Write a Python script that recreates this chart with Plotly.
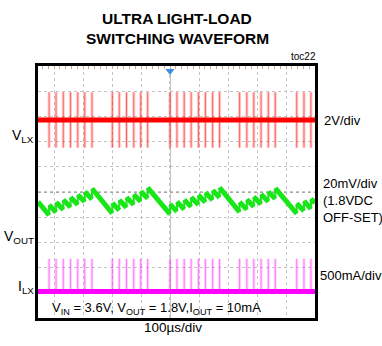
import plotly.graph_objects as go

# ---------------- data ----------------
# time base: 100 us/div ; record shown on screen (us)
record_t = [-55.2, 900.0]
trigger_t = 400.0

# LX switching pulse times (us)
lx_pulse_t = [-17, 7, 32, 57, 82, 106, 131,
              201, 225, 250, 275, 299, 323,
              400, 424, 449, 473, 498, 522, 547, 571,
              640, 665, 689, 714, 739, 763,
              837, 862, 886]
vlx_pulse_hi = 2.2     # V
vlx_pulse_lo = -2.2    # V
ilx_pulse_pk = 650     # mA

# VOUT ripple (mV around the 1.8V offset): value just before / just after each pulse
vout_start = -7.8
vout_before = [-18.4, -16.1, -14.1, -12.1, -10.1, -7.8, -5.7,
               -17.0, -14.5, -12.3, -10.1, -7.6, -5.1,
               -17.5, -15.5, -13.8, -11.8, -10.1, -8.1, -6.4, -4.4,
               -16.0, -14.0, -11.7, -9.7, -7.7, -5.4,
               -17.1, -15.1, -13.4]
vout_after = [-10.4, -8.1, -6.1, -4.1, -2.1, 0.2, 2.8,
              -8.8, -6.3, -4.1, -1.9, 0.6, 3.4,
              -9.8, -7.8, -6.1, -4.1, -2.4, -0.4, 1.3, 3.6,
              -8.0, -6.0, -3.7, -1.7, 0.3, 3.0,
              -9.1, -7.1, -5.4]
vout_end = -8.8

title_lines = ["ULTRA LIGHT-LOAD", "SWITCHING WAVEFORM"]
# ---------------------------------------------------------------

W, H = 382, 346
L, R, T, B = 38, 67, 66, 28
PW, PH = W - L - R, H - T - B


def px(xp):
    return (xp - L) / PW


def py(yp):
    return (H - B - yp) / PH


# build traces from data
spk_x, vlx_y, ilx_y = [], [], []
for t in lx_pulse_t:
    spk_x += [t, t, None]
    vlx_y += [vlx_pulse_lo, vlx_pulse_hi, None]
    ilx_y += [0, ilx_pulse_pk, None]

# VOUT: droop segments (thick) and jump segments (thin)
droop_x, droop_y, jump_x, jump_y = [], [], [], []
prev_t, prev_v = record_t[0], vout_start
for t, b, a in zip(lx_pulse_t, vout_before, vout_after):
    droop_x += [prev_t, t, None]
    droop_y += [prev_v, b, None]
    jump_x += [t, t, None]
    jump_y += [b, a, None]
    prev_t, prev_v = t, a
droop_x += [prev_t, record_t[1]]
droop_y += [prev_v, vout_end]

fig = go.Figure()
# V_LX
fig.add_trace(go.Scatter(x=spk_x, y=vlx_y, mode="lines", yaxis="y2",
                         line=dict(color="rgba(255,90,90,0.32)", width=3), hoverinfo="skip"))
fig.add_trace(go.Scatter(x=spk_x, y=vlx_y, mode="lines", yaxis="y2",
                         line=dict(color="rgba(255,0,0,0.5)", width=1), hoverinfo="skip"))
fig.add_trace(go.Scatter(x=record_t, y=[0, 0], mode="lines", yaxis="y2",
                         line=dict(color="#ff0000", width=5), hoverinfo="skip"))
# V_OUT
fig.add_trace(go.Scatter(x=jump_x, y=jump_y, mode="lines", yaxis="y3",
                         line=dict(color="rgb(25,230,25)", width=2), hoverinfo="skip"))
fig.add_trace(go.Scatter(x=droop_x, y=droop_y, mode="lines", yaxis="y3",
                         line=dict(color="rgb(25,230,25)", width=5), hoverinfo="skip"))
# I_LX
fig.add_trace(go.Scatter(x=spk_x, y=ilx_y, mode="lines", yaxis="y4",
                         line=dict(color="rgba(255,120,255,0.3)", width=3), hoverinfo="skip"))
fig.add_trace(go.Scatter(x=spk_x, y=ilx_y, mode="lines", yaxis="y4",
                         line=dict(color="rgba(255,0,255,0.45)", width=1), hoverinfo="skip"))
fig.add_trace(go.Scatter(x=record_t, y=[0, 0], mode="lines", yaxis="y4",
                         line=dict(color="#ff00ff", width=5), hoverinfo="skip"))
# trigger marker
fig.add_trace(go.Scatter(x=[trigger_t], y=[9.8], mode="markers", cliponaxis=False,
                         marker=dict(symbol="triangle-down", size=8, color="#3d8fe0"),
                         hoverinfo="skip"))

grid = dict(showgrid=True, gridcolor="#c4c4c4", griddash="dot", gridwidth=1,
            zeroline=False, showticklabels=False, ticks="",
            showline=True, linecolor="black", linewidth=2.5, mirror=True)

fig.update_layout(
    width=W, height=H, margin=dict(l=L, r=R, t=T, b=B),
    paper_bgcolor="white", plot_bgcolor="white", showlegend=False,
    xaxis=dict(range=record_t, tick0=0, dtick=100, **grid),
    xaxis2=dict(range=record_t, overlaying="x", side="top", tick0=0, dtick=20,
                ticks="inside", ticklen=3, tickcolor="#c9a98f", tickwidth=1,
                showticklabels=False, showgrid=False, zeroline=False),
    yaxis=dict(range=[0, 10], tick0=0, dtick=1, **grid),
    yaxis2=dict(range=[-15.72, 4.28], overlaying="y", visible=False),
    yaxis3=dict(range=[-100, 100], overlaying="y", visible=False),
    yaxis4=dict(range=[-525, 4475], overlaying="y", visible=False),
    font=dict(family="Liberation Sans, Arial, sans-serif", color="black", size=13),
)
# invisible trace to make xaxis2 render
fig.add_trace(go.Scatter(x=record_t, y=[None, None], xaxis="x2", yaxis="y", hoverinfo="skip"))

# center graticule lines + blank strip behind caption
fig.add_shape(type="line", xref="x", yref="y", x0=trigger_t, x1=trigger_t, y0=0, y1=10,
              line=dict(color="#8a8a8a", width=1, dash="dot"), layer="between")
fig.add_shape(type="line", xref="x", yref="y", x0=record_t[0], x1=record_t[1], y0=5, y1=5,
              line=dict(color="#8a8a8a", width=1, dash="dot"), layer="between")
fig.add_shape(type="rect", xref="paper", yref="y", x0=0.004, x1=0.996, y0=0.02, y1=0.9,
              fillcolor="white", line=dict(width=0), layer="between")

title_font = dict(family="Liberation Sans, Arial", size=15.5, color="black")
ann = [
    dict(text="<b>%s</b>" % title_lines[0], x=px(177), y=py(18.5), font=title_font),
    dict(text="<b>%s</b>" % title_lines[1], x=px(177.5), y=py(38.5), font=title_font),
    dict(text="toc22", x=px(318), y=py(57), xanchor="right", font=dict(size=10)),
    dict(text="V<sub>LX</sub>", x=px(36), y=py(136), xanchor="right", font=dict(size=14)),
    dict(text="V<sub>OUT</sub>", x=px(36), y=py(237), xanchor="right", font=dict(size=14)),
    dict(text="I<sub>LX</sub>", x=px(36), y=py(287), xanchor="right", font=dict(size=14)),
    dict(text="2V/div", x=px(322), y=py(120), xanchor="left"),
    dict(text="20mV/div<br>(1.8VDC<br>OFF-SET)", x=px(321), y=py(200.5), xanchor="left",
         align="left"),
    dict(text="500mA/div", x=px(318), y=py(275), xanchor="left"),
    dict(text="V<sub>IN</sub> = 3.6V, V<sub>OUT</sub> = 1.8V,I<sub>OUT</sub> = 10mA",
         x=px(50), y=py(308), xanchor="left"),
    dict(text="100µs/div", x=px(173), y=py(327), font=dict(size=13.5)),
]
for a in ann:
    a.setdefault("xanchor", "center")
    a.update(xref="paper", yref="paper", showarrow=False, yanchor="middle")
    fig.add_annotation(**a)

fig.write_html("out.html")
